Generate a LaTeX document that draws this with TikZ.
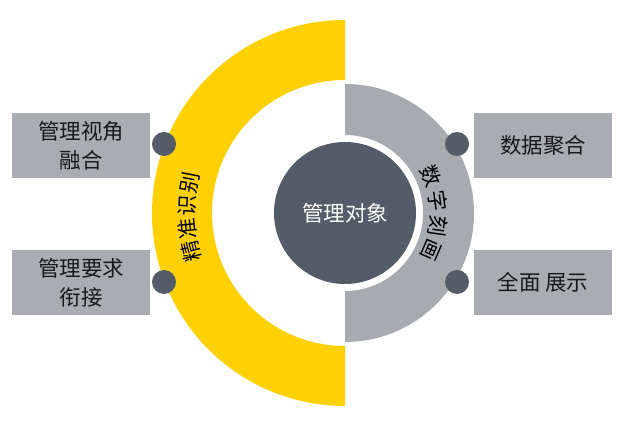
\documentclass[tikz,border=0pt]{standalone}
\usepackage{fontspec}
\setmainfont{Noto Sans CJK SC}
\usetikzlibrary{calc}
\definecolor{ringyellow}{HTML}{FDD106}
\definecolor{ringgray}{HTML}{A7ABB0}
\definecolor{boxgray}{HTML}{A9ADB2}
\definecolor{darkslate}{HTML}{535C68}
\begin{document}
\begin{tikzpicture}[x=1pt,y=1pt,
  box/.style={fill=boxgray, minimum width=138pt, minimum height=65pt, inner sep=0pt,
    align=center, font=\fontsize{21.5}{29}\selectfont, text=black!90},
  dot/.style={circle, fill=darkslate, minimum size=24pt, inner sep=0pt},
  arcchar/.style={font=\fontsize{21}{21}\selectfont, inner sep=0pt, text=black},
  core/.style={circle, fill=darkslate, minimum size=142pt, inner sep=0pt, text=white,
    font=\fontsize{21.5}{21.5}\selectfont}]
\fill[white] (0,0) rectangle (639,433);
\useasboundingbox (0,0) rectangle (639,433);
\coordinate (C) at (345,220);
% yellow half ring (left)
\fill[ringyellow] (345,413) arc[start angle=90,end angle=270,radius=193]
  -- (345,87) arc[start angle=270,end angle=90,radius=133] -- cycle;
% gray half ring (right)
\fill[ringgray] (345,349) arc[start angle=90,end angle=-90,radius=129]
  -- (345,142) arc[start angle=-90,end angle=90,radius=78] -- cycle;
% core
\node[core] (core) at (C) {管理对象};
% dots
\node[dot] (dl1) at (164,289) {};
\node[dot] (dl2) at (164,151) {};
\node[dot] (dr1) at (457,289) {};
\node[dot] (dr2) at (457,151) {};
% boxes
\node[box] (bl1) at (81,287.5) {管理视角\\融合};
\node[box] (bl2) at (81,150.5) {管理要求\\衔接};
\node[box] (br1) at (543,287.5) {数据聚合};
\node[box] (br2) at (543,150.5) {全面 展示};
% curved labels
\foreach \ch/\a [count=\i, evaluate=\a as \r using \a-90] in {精/194, 准/185.7, 识/177.3, 别/169}
  \node[arcchar, rotate=\r] (l\i) at ([shift={(\a:158)}]C) {\ch};
\foreach \ch/\a [count=\i, evaluate=\a as \r using \a-90] in {数/23.4, 字/7.6, 刻/-8, 画/-23.5}
  \node[arcchar, rotate=\r] (r\i) at ([shift={(\a:94)}]C) {\ch};
\end{tikzpicture}
\end{document}
